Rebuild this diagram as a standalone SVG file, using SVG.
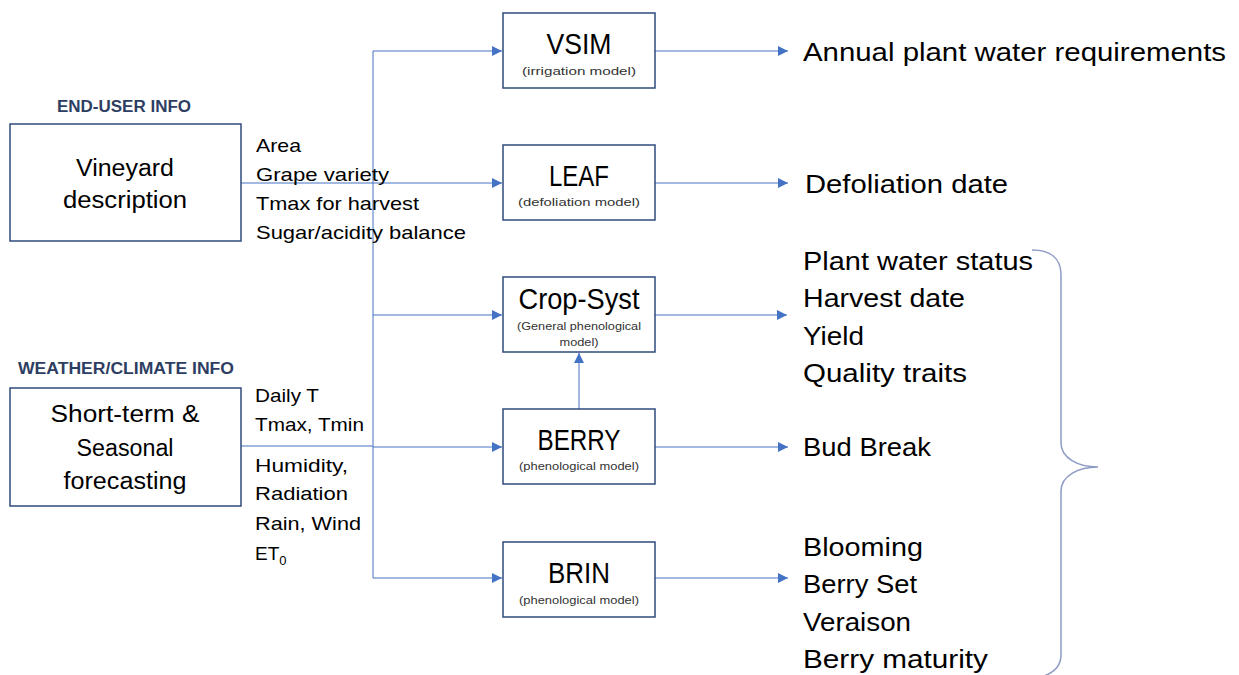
<svg xmlns="http://www.w3.org/2000/svg" width="1239" height="675" viewBox="0 0 1239 675">
  <style>
    text { font-family: "Liberation Sans", Arial, sans-serif; fill: #000; }
    .box { fill: #fff; stroke: #2F4B7C; stroke-width: 1.5; }
    .hdr { font-weight: bold; font-size: 16px; fill: #2E3E62; }
    .src { font-size: 23px; text-anchor: middle; }
    .lst { font-size: 19px; }
    .ttl { font-size: 29px; text-anchor: middle; }
    .sub { font-size: 11px; text-anchor: middle; fill: #333; }
    .out { font-size: 26px; }
    .wire { fill: none; stroke: #4472C4; stroke-width: 1; }
    .brace { fill: none; stroke: #8E9CC4; stroke-width: 1.5; }
  </style>
  <defs>
    <marker id="arrow" viewBox="0 0 10 10" refX="10" refY="5" markerWidth="10" markerHeight="10" markerUnits="userSpaceOnUse" orient="auto">
      <path d="M0,0 L10,5 L0,10 z" fill="#4472C4"/>
    </marker>
  </defs>

  <rect width="1239" height="675" fill="#fff"/>

  <!-- connectors -->
  <g id="connectors" class="wire">
    <line x1="241" y1="183" x2="373" y2="183"/>
    <line x1="241" y1="446" x2="373" y2="446"/>
    <line x1="373" y1="51" x2="373" y2="578"/>
    <line x1="373" y1="51" x2="502" y2="51" marker-end="url(#arrow)"/>
    <line x1="373" y1="183" x2="502" y2="183" marker-end="url(#arrow)"/>
    <line x1="373" y1="315" x2="502" y2="315" marker-end="url(#arrow)"/>
    <line x1="373" y1="447" x2="502" y2="447" marker-end="url(#arrow)"/>
    <line x1="373" y1="578" x2="502" y2="578" marker-end="url(#arrow)"/>
    <line x1="579" y1="409" x2="579" y2="353" marker-end="url(#arrow)"/>
    <line x1="655" y1="51" x2="788" y2="51" marker-end="url(#arrow)"/>
    <line x1="655" y1="183" x2="788" y2="183" marker-end="url(#arrow)"/>
    <line x1="655" y1="315" x2="787" y2="315" marker-end="url(#arrow)"/>
    <line x1="655" y1="447" x2="788" y2="447" marker-end="url(#arrow)"/>
    <line x1="655" y1="578" x2="788" y2="578" marker-end="url(#arrow)"/>
  </g>

  <!-- end-user input -->
  <g id="end-user">
    <text class="hdr" x="124" y="112" text-anchor="middle" textLength="134" lengthAdjust="spacingAndGlyphs">END-USER INFO</text>
    <rect class="box" x="10" y="124" width="231" height="117"/>
    <text class="src" x="125" y="176" textLength="98" lengthAdjust="spacingAndGlyphs">Vineyard</text>
    <text class="src" x="125" y="208" textLength="124" lengthAdjust="spacingAndGlyphs">description</text>
    <text class="lst" x="256" y="152" textLength="45" lengthAdjust="spacingAndGlyphs">Area</text>
    <text class="lst" x="256" y="181" textLength="133" lengthAdjust="spacingAndGlyphs">Grape variety</text>
    <text class="lst" x="256" y="210" textLength="163" lengthAdjust="spacingAndGlyphs">Tmax for harvest</text>
    <text class="lst" x="256" y="239" textLength="210" lengthAdjust="spacingAndGlyphs">Sugar/acidity balance</text>
  </g>

  <!-- weather input -->
  <g id="weather">
    <text class="hdr" x="126" y="374" text-anchor="middle" textLength="216" lengthAdjust="spacingAndGlyphs">WEATHER/CLIMATE INFO</text>
    <rect class="box" x="10" y="388" width="231" height="118"/>
    <text class="src" x="125" y="422" textLength="149" lengthAdjust="spacingAndGlyphs">Short-term &amp;</text>
    <text class="src" x="125" y="456" textLength="97" lengthAdjust="spacingAndGlyphs">Seasonal</text>
    <text class="src" x="125" y="489" textLength="123" lengthAdjust="spacingAndGlyphs">forecasting</text>
    <text class="lst" x="255" y="402" textLength="64" lengthAdjust="spacingAndGlyphs">Daily T</text>
    <text class="lst" x="255" y="431" textLength="109" lengthAdjust="spacingAndGlyphs">Tmax, Tmin</text>
    <text class="lst" x="255" y="472" textLength="93" lengthAdjust="spacingAndGlyphs">Humidity,</text>
    <text class="lst" x="255" y="500" textLength="93" lengthAdjust="spacingAndGlyphs">Radiation</text>
    <text class="lst" x="255" y="530" textLength="106" lengthAdjust="spacingAndGlyphs">Rain, Wind</text>
    <text class="lst" x="255" y="560">ET<tspan font-size="13" dy="5">0</tspan></text>
  </g>

  <!-- models -->
  <g id="vsim">
    <rect class="box" x="503" y="13" width="152" height="75"/>
    <text class="ttl" x="579" y="54" textLength="65" lengthAdjust="spacingAndGlyphs">VSIM</text>
    <text class="sub" x="579" y="75" textLength="114" lengthAdjust="spacingAndGlyphs">(irrigation model)</text>
  </g>
  <g id="leaf">
    <rect class="box" x="503" y="145" width="152" height="75"/>
    <text class="ttl" x="579" y="186" textLength="60" lengthAdjust="spacingAndGlyphs">LEAF</text>
    <text class="sub" x="579" y="206" textLength="122" lengthAdjust="spacingAndGlyphs">(defoliation model)</text>
  </g>
  <g id="cropsyst">
    <rect class="box" x="503" y="277" width="152" height="75"/>
    <text class="ttl" x="579" y="309" textLength="121" lengthAdjust="spacingAndGlyphs">Crop-Syst</text>
    <text class="sub" x="579" y="330" textLength="124" lengthAdjust="spacingAndGlyphs">(General phenological</text>
    <text class="sub" x="579" y="346" textLength="39" lengthAdjust="spacingAndGlyphs">model)</text>
  </g>
  <g id="berry">
    <rect class="box" x="503" y="409" width="152" height="75"/>
    <text class="ttl" x="579" y="450" textLength="83" lengthAdjust="spacingAndGlyphs">BERRY</text>
    <text class="sub" x="579" y="470" textLength="120" lengthAdjust="spacingAndGlyphs">(phenological model)</text>
  </g>
  <g id="brin">
    <rect class="box" x="503" y="542" width="152" height="75"/>
    <text class="ttl" x="579" y="583" textLength="62" lengthAdjust="spacingAndGlyphs">BRIN</text>
    <text class="sub" x="579" y="604" textLength="120" lengthAdjust="spacingAndGlyphs">(phenological model)</text>
  </g>

  <!-- outputs -->
  <g id="outputs">
    <text class="out" x="803" y="61" textLength="423" lengthAdjust="spacingAndGlyphs">Annual plant water requirements</text>
    <text class="out" x="805" y="193" textLength="203" lengthAdjust="spacingAndGlyphs">Defoliation date</text>
    <text class="out" x="803" y="270" textLength="230" lengthAdjust="spacingAndGlyphs">Plant water status</text>
    <text class="out" x="803" y="307" textLength="162" lengthAdjust="spacingAndGlyphs">Harvest date</text>
    <text class="out" x="803" y="345" textLength="61" lengthAdjust="spacingAndGlyphs">Yield</text>
    <text class="out" x="803" y="382" textLength="164" lengthAdjust="spacingAndGlyphs">Quality traits</text>
    <text class="out" x="803" y="456" textLength="128" lengthAdjust="spacingAndGlyphs">Bud Break</text>
    <text class="out" x="803" y="556" textLength="120" lengthAdjust="spacingAndGlyphs">Blooming</text>
    <text class="out" x="803" y="593" textLength="114" lengthAdjust="spacingAndGlyphs">Berry Set</text>
    <text class="out" x="803" y="631" textLength="108" lengthAdjust="spacingAndGlyphs">Veraison</text>
    <text class="out" x="803" y="668" textLength="185" lengthAdjust="spacingAndGlyphs">Berry maturity</text>
  </g>

  <!-- grouping brace -->
  <g id="brace">
    <path class="brace" d="M1032,250 C1050,250 1061,258 1061,275 L1061,443 C1061,458 1078,467 1098,467 C1078,467 1061,476 1061,491 L1061,655 C1061,665 1055,672 1044,676"/>
  </g>
</svg>
